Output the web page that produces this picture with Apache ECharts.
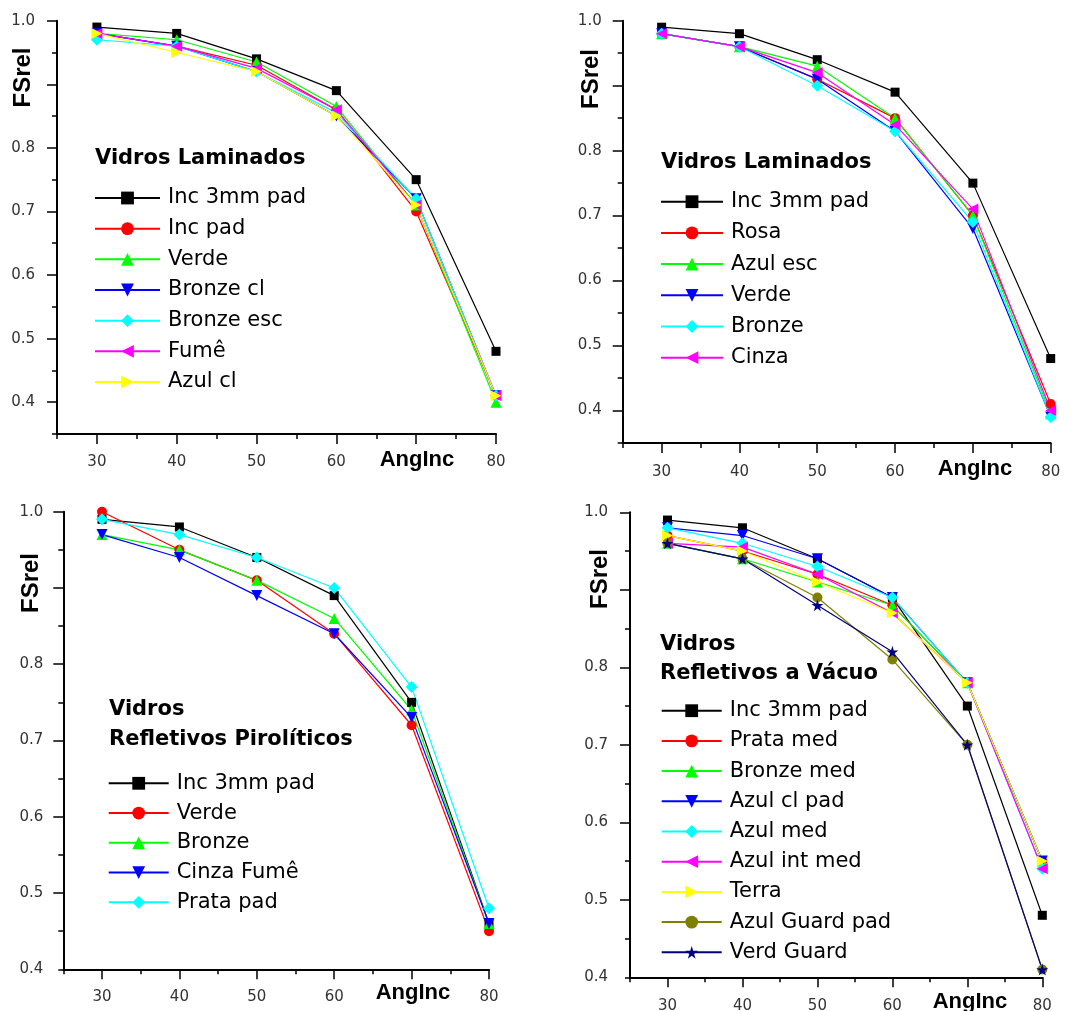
<!DOCTYPE html>
<html><head><meta charset="utf-8">
<script src="https://cdn.jsdelivr.net/npm/echarts@6/dist/echarts.min.js"></script>
<style>html,body{margin:0;padding:0;background:#fff}#c{width:1084px;height:1011px}</style>
</head><body><div id="c"></div>
<script>
// ---------------- DATA ----------------
const angInc = [30, 40, 50, 60, 70, 80];
const xTickLabels = [30, 40, 50, 60, 80];          // 70 is covered by the "AngInc" title
const yTickLabels = [0.4, 0.5, 0.6, 0.7, 0.8, 1.0]; // 0.9 is covered by the "FSrel" title

// Panel 1 – Vidros Laminados
const p1Title = 'Vidros Laminados';
const p1Names = ['Inc 3mm pad', 'Inc pad', 'Verde', 'Bronze cl', 'Bronze esc', 'Fumê', 'Azul cl'];
const p1Inc3mmPad = [0.99, 0.98, 0.94, 0.89, 0.75, 0.48];
const p1IncPad    = [0.98, 0.96, 0.93, 0.86, 0.70, 0.41];
const p1Verde     = [0.98, 0.97, 0.935, 0.865, 0.71, 0.40];
const p1BronzeCl  = [0.98, 0.96, 0.92, 0.85, 0.72, 0.41];
const p1BronzeEsc = [0.97, 0.96, 0.92, 0.855, 0.72, 0.41];
const p1Fume      = [0.98, 0.96, 0.925, 0.86, 0.71, 0.41];
const p1AzulCl    = [0.98, 0.95, 0.92, 0.85, 0.71, 0.41];

// Panel 2 – Vidros Laminados
const p2Title = 'Vidros Laminados';
const p2Names = ['Inc 3mm pad', 'Rosa', 'Azul esc', 'Verde', 'Bronze', 'Cinza'];
const p2Inc3mmPad = [0.99, 0.98, 0.94, 0.89, 0.75, 0.48];
const p2Rosa      = [0.98, 0.96, 0.91, 0.85, 0.70, 0.41];
const p2AzulEsc   = [0.98, 0.96, 0.93, 0.85, 0.70, 0.395];
const p2Verde     = [0.98, 0.96, 0.91, 0.83, 0.68, 0.39];
const p2Bronze    = [0.98, 0.96, 0.90, 0.83, 0.69, 0.39];
const p2Cinza     = [0.98, 0.96, 0.92, 0.84, 0.71, 0.40];

// Panel 3 – Vidros Refletivos Pirolíticos
const p3Title = 'Vidros\nRefletivos Pirolíticos';
const p3Names = ['Inc 3mm pad', 'Verde', 'Bronze', 'Cinza Fumê', 'Prata pad'];
const p3Inc3mmPad = [0.99, 0.98, 0.94, 0.89, 0.75, 0.46];
const p3Verde     = [1.00, 0.95, 0.91, 0.84, 0.72, 0.45];
const p3Bronze    = [0.97, 0.95, 0.91, 0.86, 0.74, 0.46];
const p3CinzaFume = [0.97, 0.94, 0.89, 0.84, 0.73, 0.46];
const p3PrataPad  = [0.99, 0.97, 0.94, 0.90, 0.77, 0.48];

// Panel 4 – Vidros Refletivos a Vácuo
const p4Title = 'Vidros\nRefletivos a Vácuo';
const p4Names = ['Inc 3mm pad', 'Prata med', 'Bronze med', 'Azul cl pad', 'Azul med', 'Azul int med', 'Terra', 'Azul Guard pad', 'Verd Guard'];
const p4Inc3mmPad   = [0.99, 0.98, 0.94, 0.89, 0.75, 0.48];
const p4PrataMed    = [0.97, 0.95, 0.92, 0.88, 0.78, 0.55];
const p4BronzeMed   = [0.96, 0.94, 0.91, 0.88, 0.78, 0.55];
const p4AzulClPad   = [0.98, 0.97, 0.94, 0.89, 0.78, 0.55];
const p4AzulMed     = [0.98, 0.96, 0.93, 0.89, 0.78, 0.54];
const p4AzulIntMed  = [0.96, 0.955, 0.92, 0.87, 0.78, 0.54];
const p4Terra       = [0.97, 0.95, 0.91, 0.87, 0.78, 0.55];
const p4AzulGuardPad= [0.96, 0.94, 0.89, 0.81, 0.70, 0.41];
const p4VerdGuard   = [0.96, 0.94, 0.88, 0.82, 0.70, 0.41];

// ---------------- STYLE ----------------
const STAR = 'path://M50,0 L61,35 L98,35 L68,57 L79,91 L50,70 L21,91 L32,57 L2,35 L39,35 Z';
const styles = [
  {color: '#000000', symbol: 'rect', size: 9, rot: 0},
  {color: '#ff0000', symbol: 'circle', size: 10, rot: 0},
  {color: '#00ff00', symbol: 'triangle', size: 11, rot: 0},
  {color: '#0000ff', symbol: 'triangle', size: 11, rot: 180},
  {color: '#00ffff', symbol: 'diamond', size: 12, rot: 0},
  {color: '#ff00ff', symbol: 'triangle', size: 11, rot: 90},
  {color: '#ffff00', symbol: 'triangle', size: 11, rot: -90},
  {color: '#808000', symbol: 'circle', size: 10, rot: 0},
  {color: '#000080', symbol: STAR, size: 12, rot: 0}
];

const LEG_FS = 21;
const panels = [
  {title: p1Title, names: p1Names, values: [p1Inc3mmPad, p1IncPad, p1Verde, p1BronzeCl, p1BronzeEsc, p1Fume, p1AzulCl],
   grid: {left: 57, top: 20.7, width: 439, height: 413.3}, yMin: 0.35,
   fsrel: [23, 77.5], angInc: [417, 460], head: [95, 159],
   leg: {left: 94, top: 198 - LEG_FS / 2, step: 30.67, w: 65}, xMargin: 21, yMargin: 22},
  {title: p2Title, names: p2Names, values: [p2Inc3mmPad, p2Rosa, p2AzulEsc, p2Verde, p2Bronze, p2Cinza],
   grid: {left: 622.7, top: 20.7, width: 428, height: 422.3}, yMin: 0.35,
   fsrel: [591.7, 79], angInc: [975, 469], head: [661, 163],
   leg: {left: 660, top: 201.7 - LEG_FS / 2, step: 31.2, w: 62}, xMargin: 22, yMargin: 21},
  {title: p3Title, names: p3Names, values: [p3Inc3mmPad, p3Verde, p3Bronze, p3CinzaFume, p3PrataPad],
   grid: {left: 63.3, top: 511.7, width: 425.7, height: 457.6}, yMin: 0.4,
   fsrel: [31, 583], angInc: [413, 993], head: [109, 724.7],
   leg: {left: 107.7, top: 783.3 - LEG_FS / 2, step: 29.75, w: 60}, xMargin: 20, yMargin: 20},
  {title: p4Title, names: p4Names, values: [p4Inc3mmPad, p4PrataMed, p4BronzeMed, p4AzulClPad, p4AzulMed, p4AzulIntMed, p4Terra, p4AzulGuardPad, p4VerdGuard],
   grid: {left: 630, top: 512.3, width: 412.3, height: 465}, yMin: 0.4,
   fsrel: [600, 579], angInc: [970, 1002], head: [660, 659],
   leg: {left: 660.7, top: 710.7 - LEG_FS / 2, step: 30.2, w: 60}, xMargin: 21, yMargin: 22}
];

const labelFont = {fontFamily: 'DejaVu Sans', fontSize: 15, color: '#333'};
const grids = [], xAxes = [], yAxes = [], series = [], legends = [], graphics = [];

panels.forEach((P, p) => {
  grids.push(Object.assign({outerBoundsMode: 'none', containLabel: false}, P.grid));
  const yMajor = [];
  for (let k = Math.round(P.yMin * 10 + 0.5); k <= 10; k++) yMajor.push(k / 10);
  // main x axis
  xAxes.push({type: 'value', gridIndex: p, position: 'bottom', offset: 0, min: 25, max: 80,
    axisLine: {show: true, onZero: false, lineStyle: {color: '#000', width: 2}},
    axisTick: {show: true, customValues: angInc, length: 10, lineStyle: {color: '#000', width: 1.5}},
    axisLabel: Object.assign({show: true, customValues: xTickLabels, margin: P.xMargin}, labelFont),
    splitLine: {show: false}});
  // minor x ticks
  xAxes.push({type: 'value', gridIndex: p, position: 'bottom', offset: 0, min: 25, max: 80, interval: 5,
    axisLine: {show: false, onZero: false}, axisTick: {show: true, length: 5, lineStyle: {color: '#000', width: 1.5}},
    axisLabel: {show: false}, splitLine: {show: false}});
  // main y axis
  yAxes.push({type: 'value', gridIndex: p, position: 'left', offset: 0, min: P.yMin, max: 1,
    axisLine: {show: true, onZero: false, lineStyle: {color: '#000', width: 2}},
    axisTick: {show: true, customValues: yMajor, length: 10, lineStyle: {color: '#000', width: 1.5}},
    axisLabel: Object.assign({show: true, customValues: yTickLabels, margin: P.yMargin,
      formatter: v => Number(v).toFixed(1)}, labelFont),
    splitLine: {show: false}});
  // minor y ticks
  yAxes.push({type: 'value', gridIndex: p, position: 'left', offset: 0, min: P.yMin, max: 1, interval: 0.05,
    axisLine: {show: false, onZero: false}, axisTick: {show: true, length: 5, lineStyle: {color: '#000', width: 1.5}},
    axisLabel: {show: false}, splitLine: {show: false}});

  P.names.forEach((nm, i) => {
    const s = styles[i];
    series.push({type: 'line', name: p + ':' + nm, xAxisIndex: 2 * p, yAxisIndex: 2 * p,
      data: angInc.map((x, j) => [x, P.values[i][j]]),
      symbol: s.symbol, symbolSize: s.size, symbolRotate: s.rot, showSymbol: true,
      itemStyle: {color: s.color}, lineStyle: {color: s.color, width: 1.2},
      emphasis: {disabled: true}, clip: false});
  });

  legends.push({orient: 'vertical', left: P.leg.left, top: P.leg.top, padding: 0, itemGap: P.leg.step - LEG_FS,
    itemWidth: P.leg.w, itemHeight: 16, selectedMode: false,
    data: P.names.map(nm => p + ':' + nm),
    formatter: n => n.slice(n.indexOf(':') + 1),
    textStyle: {fontFamily: 'DejaVu Sans', fontSize: LEG_FS, color: '#000', lineHeight: LEG_FS, padding: [0, 0, 0, 3]}});

  graphics.push({type: 'text', x: P.fsrel[0], y: P.fsrel[1], rotation: Math.PI / 2,
    style: {text: 'FSrel', font: 'bold 24px "Liberation Sans"', fill: '#000', align: 'center', verticalAlign: 'middle'}});
  graphics.push({type: 'text', x: P.angInc[0], y: P.angInc[1],
    style: {text: 'AngInc', font: 'bold 22px "Liberation Sans"', fill: '#000', align: 'center', verticalAlign: 'middle'}});
  graphics.push({type: 'text', x: P.head[0], y: P.head[1],
    style: {text: P.title, font: 'bold 21px "DejaVu Sans"', fill: '#000', align: 'left', verticalAlign: 'middle', lineHeight: 29.5}});
});

const chart = echarts.init(document.getElementById('c'), null, {renderer: 'canvas'});
chart.setOption({
  animation: false,
  backgroundColor: '#ffffff',
  grid: grids, xAxis: xAxes, yAxis: yAxes, series: series, legend: legends,
  graphic: graphics
});
</script></body></html>
